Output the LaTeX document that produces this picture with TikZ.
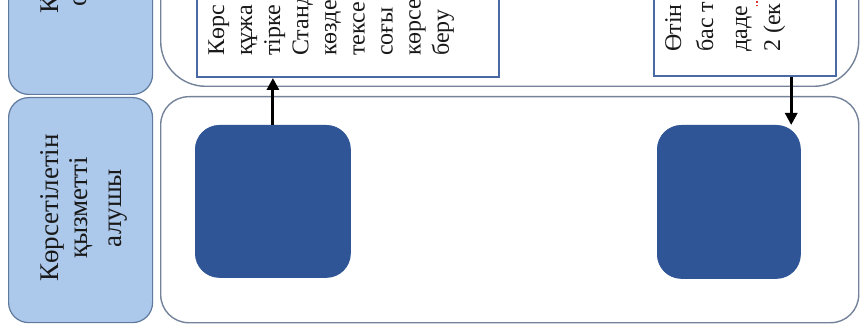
\documentclass[tikz,border=0pt]{standalone}
\usepackage{fontspec}
\setmainfont{Liberation Serif}
\usetikzlibrary{arrows.meta}
\definecolor{lanefill}{HTML}{ACC8EA}
\definecolor{laneborder}{HTML}{5F7A9C}
\definecolor{contborder}{HTML}{75839A}
\definecolor{boxborder}{HTML}{4A6AA5}
\definecolor{sqfill}{HTML}{2F5597}
\definecolor{spellred}{HTML}{E03030}
\begin{document}
\begin{tikzpicture}[x=1pt,y=-1pt,
  lanelabel/.style={draw=laneborder,line width=1.2pt,fill=lanefill,rounded corners=20pt,minimum width=144pt,inner sep=0pt},
  container/.style={draw=contborder,line width=1.4pt,fill=white,inner sep=0pt},
  textbox/.style={draw=boxborder,line width=2.2pt,fill=white,inner sep=0pt},
  stepsq/.style={fill=sqfill,draw=sqfill,line width=0.8pt,rounded corners=24pt,inner sep=0pt},
  vtext/.style={rotate=90,anchor=base west,inner sep=0pt,text=black!90,font=\fontsize{24}{28}\selectfont},
  vlabel/.style={rotate=90,anchor=base,inner sep=0pt,text=black!90,font=\fontsize{27}{32}\selectfont},
  arr/.style={line width=3pt,-{Triangle[length=12pt,width=12pt]}}]
\useasboundingbox (0,0) rectangle (864,331);
\clip (0,0) rectangle (864,331);
% lane labels
\node[lanelabel,minimum height=200pt,anchor=south west] (lab1) at (8,95) {};
\node[lanelabel,minimum height=225pt,anchor=north west] (lab2) at (8,97) {};
% lane containers
\node[container,rounded corners=45pt,minimum width=698pt,minimum height=200pt,anchor=south west] (cont1) at (160,87) {};
\node[container,rounded corners=28pt,minimum width=698pt,minimum height=226pt,anchor=north west] (cont2) at (160,96) {};
% text boxes
\node[textbox,minimum width=302pt,minimum height=150pt,anchor=south west] (box1) at (196,78) {};
\node[textbox,minimum width=182pt,minimum height=150pt,anchor=south west] (box2) at (653,77) {};
% squares
\node[stepsq,minimum width=155pt,minimum height=152pt,anchor=north west] (sq1) at (195,125) {};
\node[stepsq,minimum width=143pt,minimum height=153pt,anchor=north west] (sq2) at (657,125) {};
% lane label texts
\node[vtext,font=\fontsize{27}{32}\selectfont] (l1a) at (58,14) {К};
\node[vtext,font=\fontsize{27}{32}\selectfont] (l1b) at (86,7) {о};
\node[vlabel] (l2a) at (58,208) {Көрсетілетін};
\node[vlabel] (l2b) at (87,208) {қызметті};
\node[vlabel] (l2c) at (121,208) {алушы};
% box 1 text
\foreach \t [count=\i from 0] in {Көрс,құжа,тірке,Станд,көзде,тексе,соғы,көрсе,беру}
  \node[vtext] (t1-\i) at ({224+28.1*\i},56) {\t};
% box 2 text
\node[vtext] (t2-0) at (681,52) {Өтін};
\node[vtext] (t2-1) at (713,52) {бас т};
\node[vtext] (t2-2) at (747,52) {даде};
\node[vtext] (t2-3) at (780,52) {2 (ек};
\draw[spellred,line width=1.3pt,dotted] (t2-2.south east) ++(5,0) coordinate (r1) -- (r1 |- 0,0);
% arrows
\draw[arr] (sq1.north) -- (sq1.north |- box1.south);
\coordinate (a2) at ([xshift=-46pt]box2.south east);
\draw[arr] (a2) -- (a2 |- sq2.north);
\end{tikzpicture}
\end{document}
